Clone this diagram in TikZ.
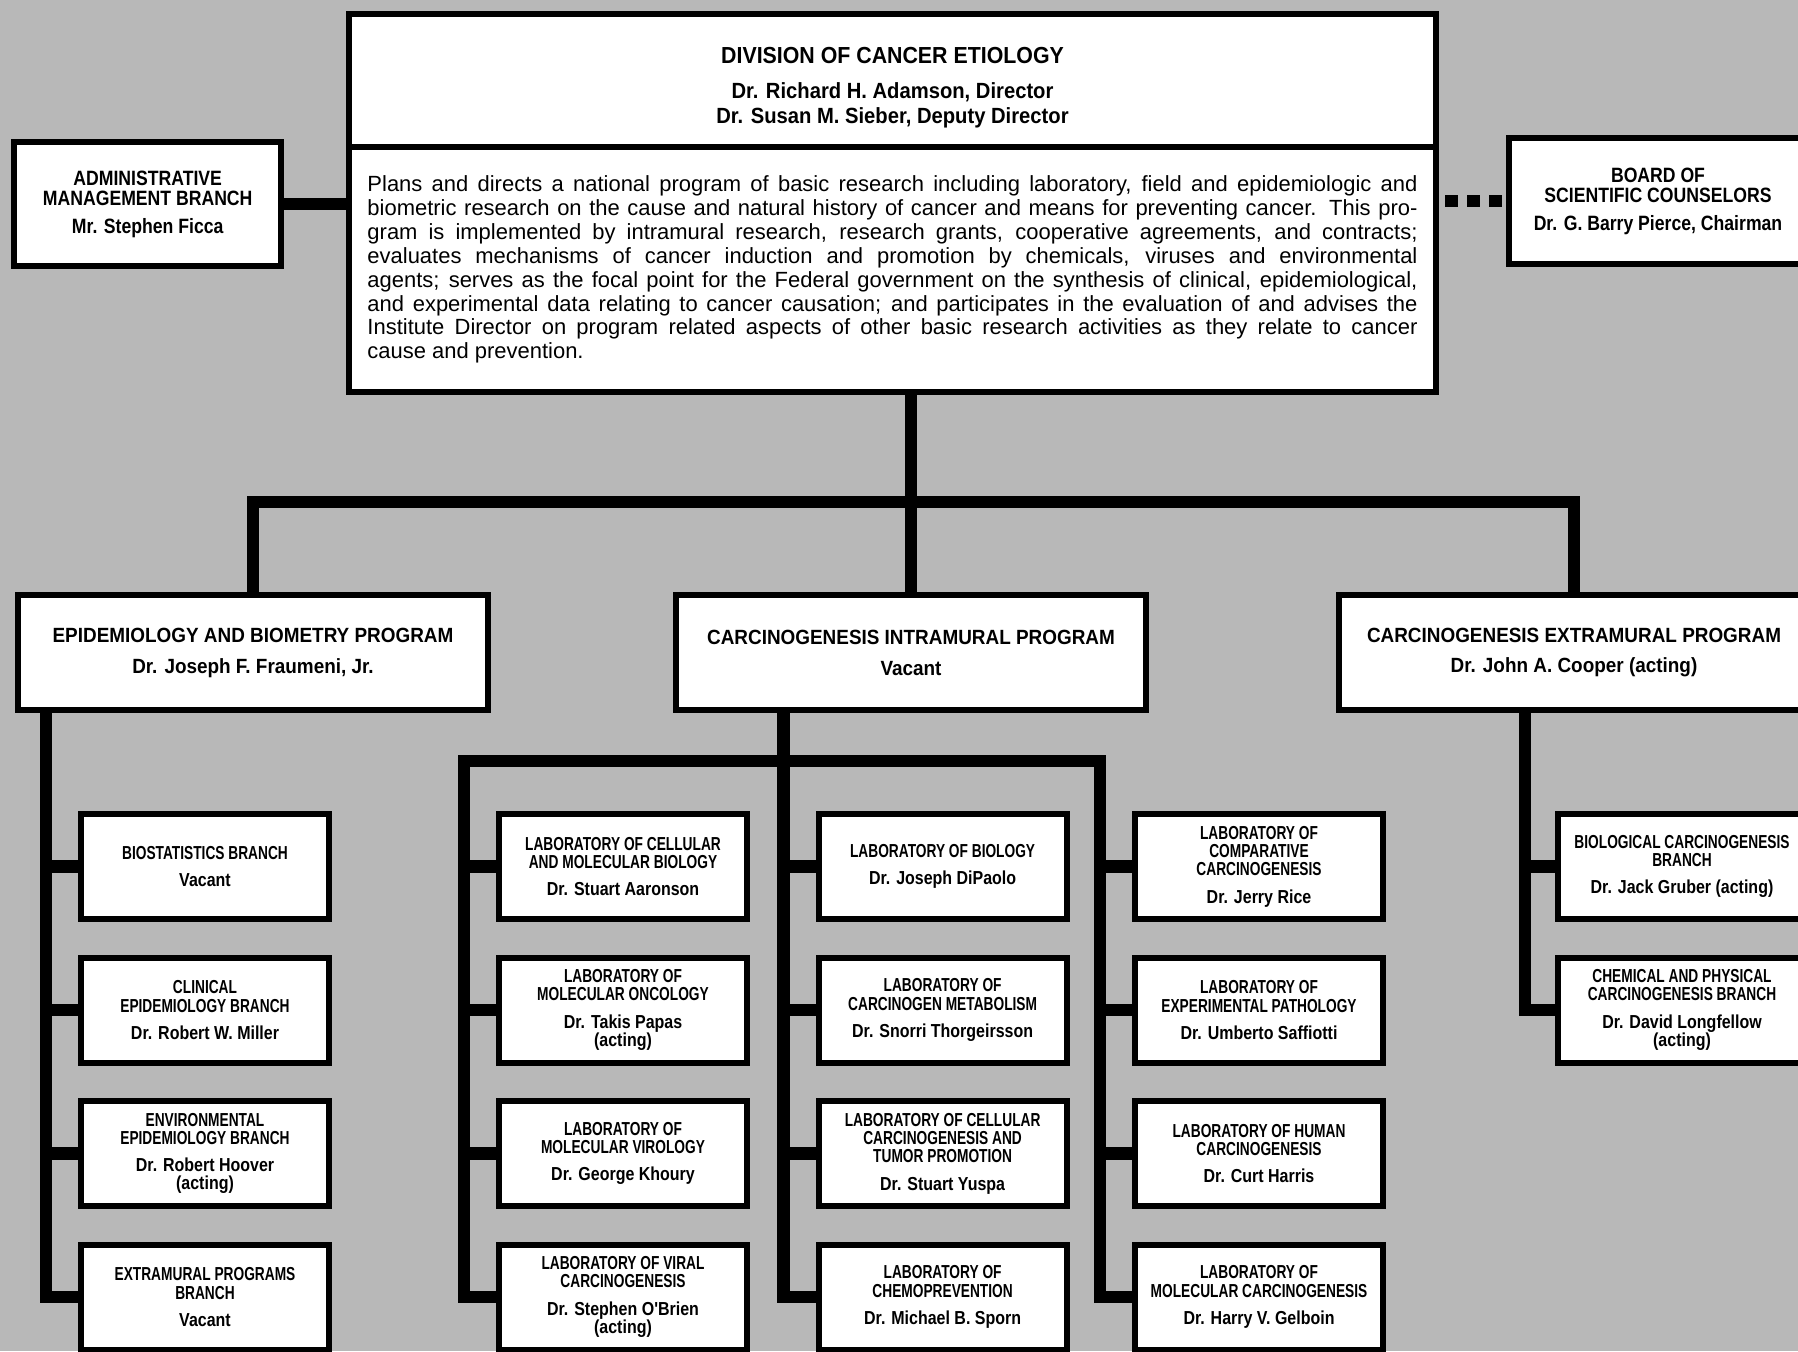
\documentclass[tikz,border=0pt]{standalone}
\usepackage{fontspec}
\setmainfont{Liberation Sans}
\newfontfamily\headfont{Liberation Sans}[FakeStretch=0.92]
\newfontfamily\unitfont{Liberation Sans}[FakeStretch=0.73]
\newfontfamily\chieffont{Liberation Sans}[FakeStretch=0.85]
\usetikzlibrary{positioning}
\definecolor{screen}{HTML}{B8B8B8}

\begin{document}
\begin{tikzpicture}[x=0.2mm, y=-0.2mm, node distance=7.7mm,
    every node/.style={align=center},
    box/.style={draw, line width=1.2mm, fill=white, outer sep=0pt, inner sep=1pt},
    labbox/.style={box, minimum width=49.6mm, minimum height=21mm,
      font=\unitfont\bfseries\fontsize{10.7}{10.4}\selectfont},
    sidebox/.style={box, font=\chieffont\bfseries\fontsize{11.8}{11.7}\selectfont},
    progbox/.style={box, minimum width=94mm, minimum height=23mm,
      font=\headfont\bfseries\fontsize{11.7}{14}\selectfont},
    conn/.style={line width=2.5mm},
    advice/.style={line width=2.4mm, dash pattern=on 2.6mm off 1.8mm, shorten <=1.8mm}]

    \path[fill=screen, use as bounding box] (0,0) rectangle (1798,1351);
    \clip (0,0) rectangle (1798,1351);

    % division office
    \node[box, minimum width=217.4mm, minimum height=26.6mm,
      font=\headfont\bfseries\fontsize{12.5}{13.7}\selectfont] (head) at (892.5,80.5)
      {\rule{0pt}{17pt}{\fontsize{13.2}{15}\selectfont DIVISION OF CANCER ETIOLOGY}\\[6.6pt]
       Dr. Richard H. Adamson, Director\\ Dr. Susan M. Sieber, Deputy Director};
    \node[box, below=0pt of head, minimum width=217.4mm, minimum height=49mm] (desc)
      {\parbox{210mm}{\fontsize{12.5}{13.6}\selectfont
       Plans and directs a national program of basic research including laboratory, field and epidemiologic and\linebreak
       biometric research on the cause and natural history of cancer and means for preventing cancer. This pro-\linebreak
       gram is implemented by intramural research, research grants, cooperative agreements, and contracts;\linebreak
       evaluates mechanisms of cancer induction and promotion by chemicals, viruses and environmental\linebreak
       agents; serves as the focal point for the Federal government on the synthesis of clinical, epidemiological,\linebreak
       and experimental data relating to cancer causation; and participates in the evaluation of and advises the\linebreak
       Institute Director on program related aspects of other basic research activities as they relate to cancer\linebreak
       cause and prevention.}};
    \node[sidebox, minimum width=53.3mm, minimum height=24.8mm] (admin) at (147.7,204)
      {ADMINISTRATIVE\\MANAGEMENT BRANCH\\[4pt]Mr. Stephen Ficca};
    \node[sidebox, minimum width=59.6mm, minimum height=25.2mm] (board) at (1658,201)
      {BOARD OF\\SCIENTIFIC COUNSELORS\\[4pt]Dr. G. Barry Pierce, Chairman};

    % programs
    \node[progbox] (cip) at (911,652.5) {CARCINOGENESIS INTRAMURAL PROGRAM\\[3.6pt]Vacant};
    \node[progbox, left=37.6mm of cip] (epi) {EPIDEMIOLOGY AND BIOMETRY PROGRAM\\[3.6pt]Dr. Joseph F. Fraumeni, Jr.};
    \node[progbox, right=38.6mm of cip] (cep) {CARCINOGENESIS EXTRAMURAL PROGRAM\\[3.6pt]Dr. John A. Cooper (acting)};

    % branches of the epidemiology program
    \node[labbox] (bio) at (205,866.5) {BIOSTATISTICS BRANCH\\[5.1pt]\chieffont Vacant};
    \node[labbox, below=of bio] (clin) {CLINICAL\\EPIDEMIOLOGY BRANCH\\[5.1pt]\chieffont Dr. Robert W. Miller};
    \node[labbox, below=of clin] (env) {ENVIRONMENTAL\\EPIDEMIOLOGY BRANCH\\[5.1pt]\chieffont Dr. Robert Hoover\\\chieffont (acting)};
    \node[labbox, below=of env] (ext) {EXTRAMURAL PROGRAMS\\BRANCH\\[5.1pt]\chieffont Vacant};

    % laboratories of the intramural program
    \node[labbox] (a1) at (623,866.5) {LABORATORY OF CELLULAR\\AND MOLECULAR BIOLOGY\\[5.1pt]\chieffont Dr. Stuart Aaronson};
    \node[labbox, below=of a1] (a2) {LABORATORY OF\\MOLECULAR ONCOLOGY\\[5.1pt]\chieffont Dr. Takis Papas\\\chieffont (acting)};
    \node[labbox, below=of a2] (a3) {LABORATORY OF\\MOLECULAR VIROLOGY\\[5.1pt]\chieffont Dr. George Khoury};
    \node[labbox, below=of a3] (a4) {LABORATORY OF VIRAL\\CARCINOGENESIS\\[5.1pt]\chieffont Dr. Stephen O'Brien\\\chieffont (acting)};

    \node[labbox] (b1) at (942.6,866.5) {LABORATORY OF BIOLOGY\\[5.1pt]\chieffont Dr. Joseph DiPaolo};
    \node[labbox, below=of b1] (b2) {LABORATORY OF\\CARCINOGEN METABOLISM\\[5.1pt]\chieffont Dr. Snorri Thorgeirsson};
    \node[labbox, below=of b2] (b3) {LABORATORY OF CELLULAR\\CARCINOGENESIS AND\\TUMOR PROMOTION\\[5.1pt]\chieffont Dr. Stuart Yuspa};
    \node[labbox, below=of b3] (b4) {LABORATORY OF\\CHEMOPREVENTION\\[5.1pt]\chieffont Dr. Michael B. Sporn};

    \node[labbox] (c1) at (1259,866.5) {LABORATORY OF\\COMPARATIVE\\CARCINOGENESIS\\[5.1pt]\chieffont Dr. Jerry Rice};
    \node[labbox, below=of c1] (c2) {LABORATORY OF\\EXPERIMENTAL PATHOLOGY\\[5.1pt]\chieffont Dr. Umberto Saffiotti};
    \node[labbox, below=of c2] (c3) {LABORATORY OF HUMAN\\CARCINOGENESIS\\[5.1pt]\chieffont Dr. Curt Harris};
    \node[labbox, below=of c3] (c4) {LABORATORY OF\\MOLECULAR CARCINOGENESIS\\[5.1pt]\chieffont Dr. Harry V. Gelboin};

    % branches of the extramural program
    \node[labbox] (bcb) at (1682,866.5) {BIOLOGICAL CARCINOGENESIS\\BRANCH\\[5.1pt]\chieffont Dr. Jack Gruber (acting)};
    \node[labbox, below=of bcb] (cpb) {CHEMICAL AND PHYSICAL\\CARCINOGENESIS BRANCH\\[5.1pt]\chieffont Dr. David Longfellow\\\chieffont (acting)};

    % connectors
    \draw[conn] (admin.east) -- (admin.east -| desc.west);
    \draw[advice] (desc.east |- board.west) -- (board.west);

    \coordinate (split) at (911,502);
    \draw[conn] (desc.south -| cip.north) -- (cip.north);
    \draw[conn] (epi.north) |- (split) -| (cep.north);

    \coordinate (episp) at ([xshift=-7mm]bio.west);
    \draw[conn] (epi.south -| episp) |- (ext.west);
    \foreach \b in {bio,clin,env}
      \draw[conn] (episp |- \b.west) -- (\b.west);

    \coordinate (spa) at ([xshift=-7mm]a1.west);
    \coordinate (spb) at ([xshift=-7mm]b1.west);
    \coordinate (spc) at ([xshift=-7mm]c1.west);
    \coordinate (labbar) at (spb |- 0,761);
    \draw[conn] (cip.south -| labbar) |- (b4.west);
    \draw[conn] (a4.west) -| (labbar -| spa) -| (spc |- c4.west) -- (c4.west);
    \foreach \n in {1,2,3} {
      \draw[conn] (spa |- a\n.west) -- (a\n.west);
      \draw[conn] (spb |- b\n.west) -- (b\n.west);
      \draw[conn] (spc |- c\n.west) -- (c\n.west);
    }

    \coordinate (cepsp) at ([xshift=-6.6mm]bcb.west);
    \draw[conn] (cep.south -| cepsp) |- (cpb.west);
    \draw[conn] (cepsp |- bcb.west) -- (bcb.west);
\end{tikzpicture}
\end{document}
